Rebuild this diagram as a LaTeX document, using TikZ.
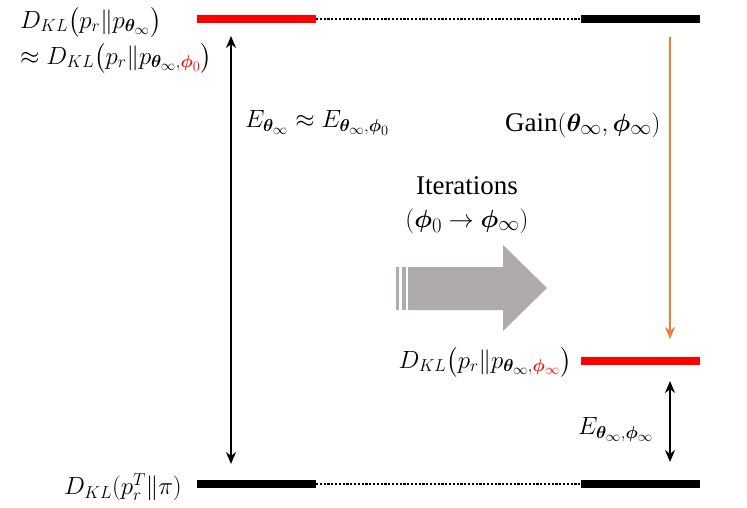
\documentclass[tikz,border=0pt]{standalone}
\usepackage{amsmath}
\usepackage{bm}
\usepackage{fontspec}
\setmainfont{Liberation Serif}
\renewcommand\defaultscriptratio{.74}
\renewcommand\defaultscriptscriptratio{.6}
\usetikzlibrary{arrows.meta}
\definecolor{kred}{RGB}{255,0,0}
\definecolor{korange}{RGB}{237,125,49}
\definecolor{kgray}{RGB}{175,171,171}
\tikzset{
  bar/.style={line width=8.5pt},
  dotline/.style={line width=2.2pt, dash pattern=on 2.2pt off 1.6pt},
  lbl/.style={inner sep=0pt, font=\fontsize{24}{28}\selectfont},
  txt/.style={inner sep=0pt, font=\fontsize{27}{31}\selectfont},
  arr/.style={line width=2.8pt, -{Stealth[length=12pt,width=10pt]}},
  darr/.style={line width=2.8pt, {Stealth[length=12pt,width=10pt]}-{Stealth[length=12pt,width=10pt]}}
}
\begin{document}
\begin{tikzpicture}[x=1pt,y=-1pt]
\useasboundingbox (0,0) rectangle (747,508);
% bar coordinates
\coordinate (tl1) at (197,19); \coordinate (tl2) at (316,19);
\coordinate (tr1) at (581,19); \coordinate (tr2) at (700,19);
\coordinate (bl1) at (197,484); \coordinate (bl2) at (316,484);
\coordinate (br1) at (581,484); \coordinate (br2) at (700,484);
\coordinate (ml1) at (581,361); \coordinate (ml2) at (700,361);
\draw[bar,kred] (tl1) -- (tl2);
\draw[bar,black] (tr1) -- (tr2);
\draw[dotline] (tl2) -- (tr1);
\draw[bar,black] (bl1) -- (bl2);
\draw[bar,black] (br1) -- (br2);
\draw[dotline] (bl2) -- (br1);
\draw[bar,kred] (ml1) -- (ml2);
% arrows
\coordinate (a1) at (231,36); \coordinate (a2) at (231,464);
\draw[darr] (a1) -- (a2);
\coordinate (o1) at (670,37); \coordinate (o2) at (670,339);
\draw[arr,korange] (o1) -- (o2);
\coordinate (s1) at (670,381); \coordinate (s2) at (670,462);
\draw[darr] (s1) -- (s2);
% labels
\node[lbl,anchor=west] (t1) at (20,22) {$D_{KL}\bigl(p_r\|p_{\bm{\theta}_\infty}\bigr)$};
\node[lbl,anchor=west] (t2) at (20,58) {$\approx D_{KL}\bigl(p_r\|p_{\bm{\theta}_\infty,\textcolor{kred}{\bm{\phi}_0}}\bigr)$};
\node[lbl,anchor=west] (e1) at (245,123) {$E_{\bm{\theta}_\infty}\approx E_{\bm{\theta}_\infty,\bm{\phi}_0}$};
\node[txt,anchor=west] (g) at (505,125) {Gain$(\bm{\theta}_\infty,\bm{\phi}_\infty)$};
\node[txt] (it) at (467,186) {Iterations};
\node[txt] (it2) at (467,221) {$(\bm{\phi}_0\rightarrow\bm{\phi}_\infty)$};
\node[lbl,anchor=east] (m) at (572,362) {$D_{KL}\bigl(p_r\|p_{\bm{\theta}_\infty,\textcolor{kred}{\bm{\phi}_\infty}}\bigr)$};
\node[lbl,anchor=west] (e2) at (578,430) {$E_{\bm{\theta}_\infty,\bm{\phi}_\infty}$};
\node[lbl,anchor=east] (b) at (182,487) {$D_{KL}(p_r^T\|\pi)$};
% big gray arrow
\fill[kgray] (396,267) rectangle (399,310);
\fill[kgray] (402,267) rectangle (406,310);
\fill[kgray] (408,267) -- (503,267) -- (503,245) -- (547,288) -- (503,331) -- (503,310) -- (408,310) -- cycle;
\end{tikzpicture}
\end{document}
